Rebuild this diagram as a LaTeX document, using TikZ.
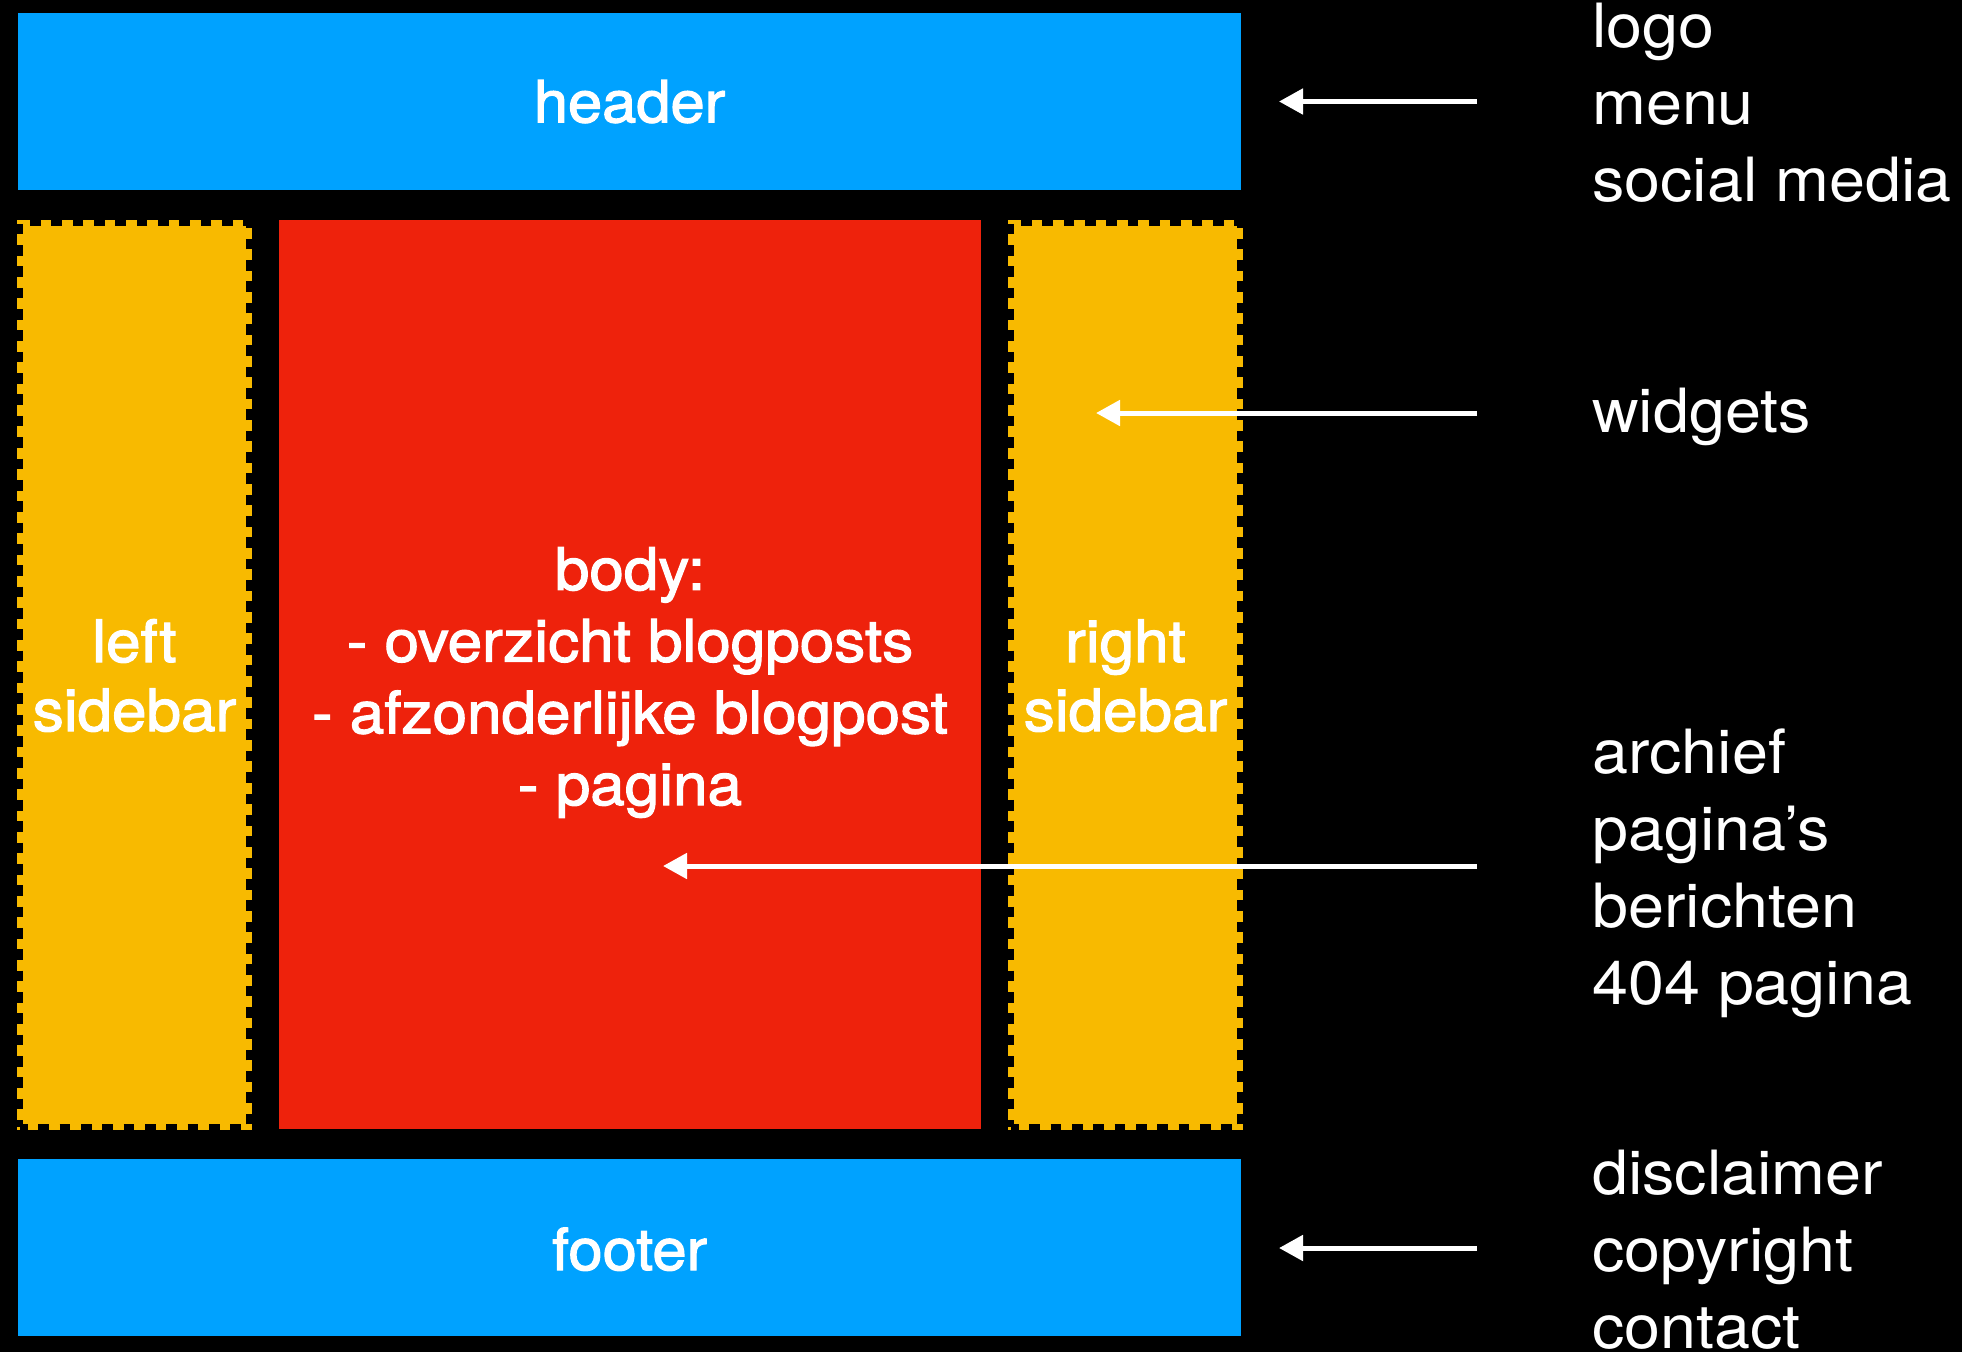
\documentclass[tikz,border=0pt]{standalone}
\usepackage{fontspec}
\setmainfont{TeX Gyre Heros}[FakeStretch=1.06]
\newfontfamily\medfont{TeX Gyre Heros}[FakeStretch=1.06,FakeBold=2]
\usetikzlibrary{arrows.meta}
\definecolor{kblue}{HTML}{00A2FF}
\definecolor{kyellow}{HTML}{F8BA00}
\definecolor{kred}{HTML}{EE220C}
\tikzset{
  band/.style={fill=kblue, draw=none, inner sep=0pt, minimum width=1223pt, minimum height=177.5pt},
  sidebox/.style={fill=kyellow, draw=black, line width=6pt, dash pattern=on 10.67pt off 10.67pt, dash phase=3pt,
     preaction={draw=kyellow, solid, line width=6pt},
     inner sep=0pt, minimum width=229pt, minimum height=904pt},
  bodybox/.style={fill=kred, draw=none, inner sep=0pt, minimum width=702pt, minimum height=909pt},
  boxlbl/.style={text=white, inner sep=0pt, align=center, font=\medfont\fontsize{58}{70}\selectfont},
  sidelbl/.style={boxlbl, font=\medfont\fontsize{58.5}{69}\selectfont},
  bodylbl/.style={boxlbl, font=\medfont\fontsize{58.5}{71.7}\selectfont},
  notelbl/.style={text=white, inner sep=0pt, align=left, anchor=base west, font=\fontsize{61}{77}\selectfont},
  pointer/.style={draw=white, line width=5pt, -{Triangle[length=24pt, width=25pt]}}
}
\begin{document}
\begin{tikzpicture}[x=1pt,y=-1pt]
\fill[black] (0,0) rectangle (1962,1352);
\useasboundingbox (0,0) rectangle (1962,1352);

% boxes
\node[band] (header) at (629.5,101.25) {};
\node[band, minimum height=177pt] (footer) at (629.5,1247.5) {};
\node[sidebox] (lside) at (134.5,675) {};
\node[sidebox] (rside) at (1125.5,675) {};
\node[bodybox] (body) at (630,674.5) {};

% box labels
\node[boxlbl, anchor=base] (headertxt) at (629.5,122.3) {header};
\node[boxlbl, anchor=base] (footertxt) at (629.5,1270) {footer};
\node[sidelbl, anchor=base] (lsidetxt) at (134.5,731) {left\\sidebar};
\node[sidelbl, anchor=base] (rsidetxt) at (1125.5,731) {right\\sidebar};
\node[bodylbl, anchor=base] (bodytxt) at (630,805) {body:\\- overzicht blogposts\\- afzonderlijke blogpost\\- pagina};

% notes
\node[notelbl] (hnote) at (1592,201) {logo\\menu\\social media};
\node[notelbl] (wnote) at (1592,432.7) {widgets};
\node[notelbl] (bnote) at (1592,1004.3) {archief\\pagina’s\\berichten\\404 pagina};
\node[notelbl] (fnote) at (1592,1348.3) {disclaimer\\copyright\\contact};

% arrows
\coordinate (ht) at (1477,101.5);
\coordinate (hp) at (1279,101.5);
\coordinate (wt) at (1477,413);
\coordinate (wp) at (1096,413);
\coordinate (bt) at (1477,866);
\coordinate (bp) at (663,866);
\coordinate (ft) at (1477,1248);
\coordinate (fp) at (1279,1248);
\draw[pointer] (ht) -- (hp);
\draw[pointer] (wt) -- (wp);
\draw[pointer] (bt) -- (bp);
\draw[pointer] (ft) -- (fp);
\end{tikzpicture}
\end{document}
